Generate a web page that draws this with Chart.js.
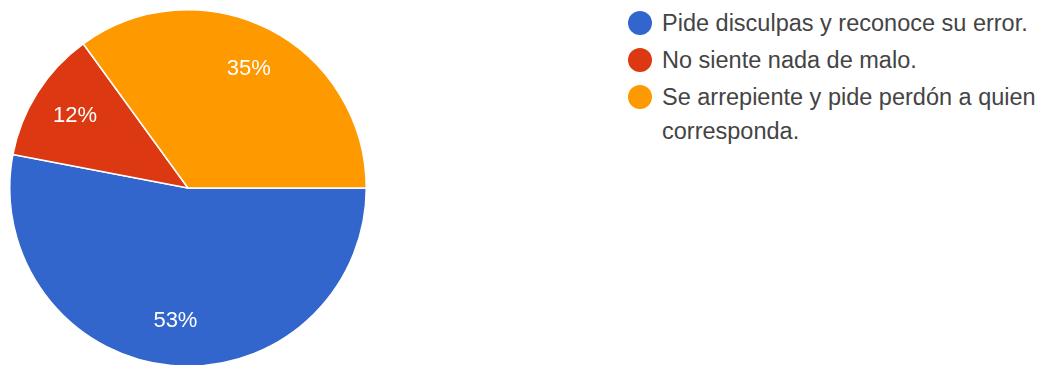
<!DOCTYPE html>
<html>
<head>
<meta charset="utf-8">
<script src="https://cdn.jsdelivr.net/npm/chart.js@4"></script>
<style>
    body { margin: 0; width: 1044px; height: 365px; overflow: hidden; background: #fff; font-family: "Liberation Sans", Arial, sans-serif; }
    #contenedor { position: absolute; left: 9px; top: 9px; width: 358px; height: 358px; }
    #leyenda { position: absolute; left: 628px; top: 6px; }
    .item { display: flex; align-items: flex-start; margin-bottom: 3px; }
    .punto { width: 24px; height: 24px; border-radius: 50%; flex: none; margin-top: 5px; margin-right: 10px; }
    .texto { font-size: 23.5px; line-height: 34px; color: #444; }
</style>
</head>
<body>
<div id="contenedor"><canvas id="graficoTorta"></canvas></div>
<div id="leyenda"></div>
<script>
// Respuestas de la encuesta
const categorias = [
    'Pide disculpas y reconoce su error.',
    'No siente nada de malo.',
    'Se arrepiente y pide perdón a quien corresponda.'
];
const porcentajes = [53, 12, 35];
const colores = ['#3366CC', '#DC3912', '#FF9900'];

// Leyenda en HTML (el texto largo se parte en dos líneas como en la imagen)
const leyenda = document.getElementById('leyenda');
categorias.forEach((cat, i) => {
    const item = document.createElement('div');
    item.className = 'item';
    const punto = document.createElement('span');
    punto.className = 'punto';
    punto.style.background = colores[i];
    const texto = document.createElement('span');
    texto.className = 'texto';
    texto.innerHTML = cat.replace('a quien ', 'a quien<br>');
    item.appendChild(punto);
    item.appendChild(texto);
    leyenda.appendChild(item);
});

// Porcentajes dentro de cada porción
const etiquetasPorcentaje = {
    id: 'etiquetasPorcentaje',
    afterDatasetsDraw(chart) {
        const ctx = chart.ctx;
        const meta = chart.getDatasetMeta(0);
        ctx.save();
        ctx.fillStyle = '#ffffff';
        ctx.font = '22px "Liberation Sans", Arial, sans-serif';
        ctx.textAlign = 'center';
        ctx.textBaseline = 'middle';
        meta.data.forEach((arc, i) => {
            const medio = (arc.startAngle + arc.endAngle) / 2;
            const r = arc.outerRadius * 0.75;
            ctx.fillText(porcentajes[i] + '%', arc.x + Math.cos(medio) * r, arc.y + Math.sin(medio) * r);
        });
        ctx.restore();
    }
};

const ctx = document.getElementById('graficoTorta').getContext('2d');
new Chart(ctx, {
    type: 'pie',
    data: {
        labels: categorias,
        datasets: [{
            data: porcentajes,
            backgroundColor: colores,
            borderColor: '#ffffff',
            borderWidth: 1.5
        }]
    },
    options: {
        responsive: true,
        maintainAspectRatio: false,
        animation: false,
        rotation: 90,
        plugins: {
            legend: { display: false },
            tooltip: { enabled: false }
        }
    },
    plugins: [etiquetasPorcentaje]
});
</script>
</body>
</html>
